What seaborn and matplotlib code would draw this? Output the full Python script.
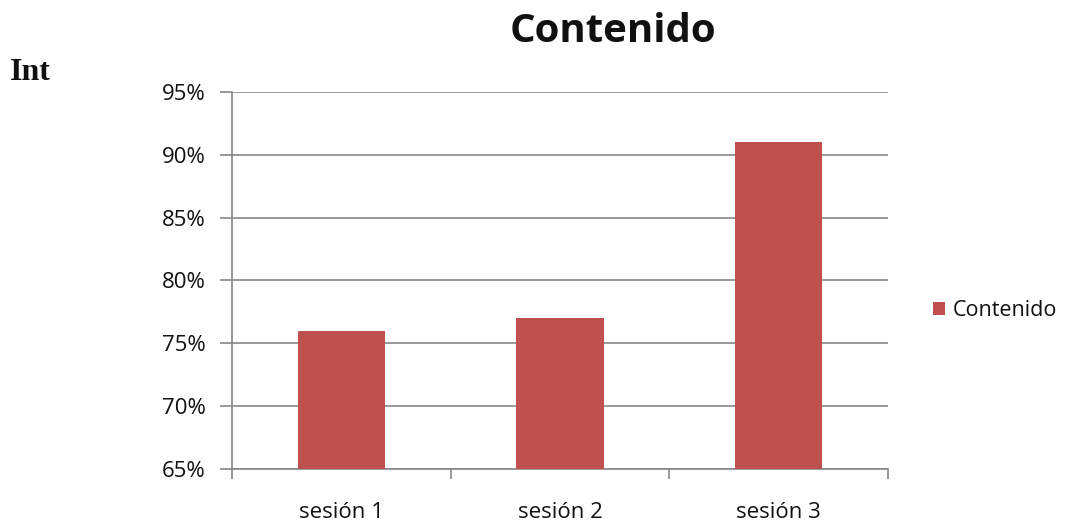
import matplotlib
matplotlib.use("Agg")
import pandas as pd
import matplotlib.pyplot as plt
import seaborn as sns
from matplotlib.ticker import FuncFormatter

sesiones = ["sesión 1", "sesión 2", "sesión 3"]
contenido = [76, 77, 91]
ticks_y = [65, 70, 75, 80, 85, 90, 95]

df = pd.DataFrame({"Sesion": sesiones, "Contenido": contenido})

sns.set_style("white")
plt.rcParams["font.family"] = ["Open Sans", "DejaVu Sans"]
plt.rcParams["text.color"] = "#111111"
plt.rcParams["xtick.color"] = "#868686"
plt.rcParams["ytick.color"] = "#868686"
plt.rcParams["xtick.labelcolor"] = "#111111"
plt.rcParams["ytick.labelcolor"] = "#111111"

fig = plt.figure(figsize=(10.67, 5.25), dpi=100)
ax = fig.add_axes([0.2174, 0.1067, 0.6148, 0.7181])

sns.barplot(data=df, x="Sesion", y="Contenido", color="#C0504D",
            width=0.4, saturation=1, ax=ax, label="Contenido", zorder=3,
            linewidth=0)

ax.set_ylim(65, 95)
ax.set_yticks(ticks_y)
ax.yaxis.set_major_formatter(FuncFormatter(lambda v, p: f"{v:.0f}%"))
ax.set_xlim(-0.5, 2.5)
ax.set_xticks([-0.5, 0.5, 1.5, 2.5], minor=False)
ax.set_xticklabels([])
ax.set_xticks([0, 1, 2], minor=True)
ax.set_xticklabels(sesiones, minor=True)
ax.tick_params(axis="x", which="major", bottom=True, length=7, width=1.2, direction="out")
ax.tick_params(axis="x", which="minor", bottom=True, length=0, pad=24, labelsize=16)
ax.tick_params(axis="y", left=True, length=9, width=1.2, direction="out", labelsize=16, pad=10)
ax.grid(axis="y", color="#868686", linewidth=1.2, zorder=0)
for s in ["top", "right"]:
    ax.spines[s].set_visible(False)
for s in ["left", "bottom"]:
    ax.spines[s].set_color("#868686")
    ax.spines[s].set_linewidth(1.2)
ax.set_xlabel("")
ax.set_ylabel("")

fig.text(0.574, 0.94, "Contenido", fontsize=29, fontweight="bold", ha="center", va="center")
ax.legend(loc="center left", bbox_to_anchor=(1.068, 0.42), frameon=False,
          borderpad=0, borderaxespad=0, fontsize=15.5,
          handlelength=0.6, handleheight=0.6, handletextpad=0.35)

fig.text(0.009, 0.848, "Int", fontsize=23, fontweight="bold",
         family=["Liberation Serif", "DejaVu Serif"])

fig.savefig("out.png", dpi=100)
